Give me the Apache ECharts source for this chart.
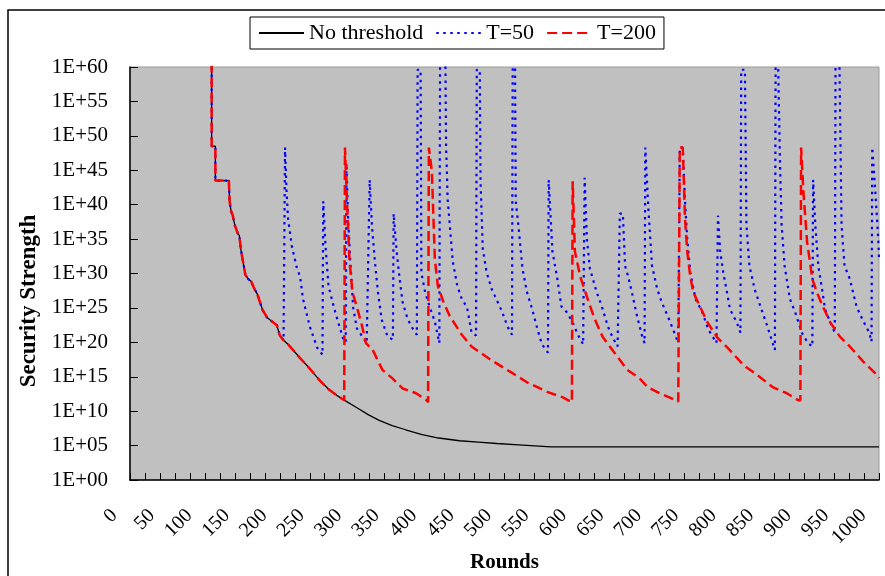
<!DOCTYPE html>
<html>
<head>
<meta charset="utf-8">
<script src="https://cdn.jsdelivr.net/npm/echarts@6/dist/echarts.min.js"></script>
<style>
html,body{margin:0;padding:0;background:#fff;}
#chart{width:885px;height:576px;}
</style>
</head>
<body>
<div id="chart"></div>
<script>
// x axis: rounds, labels every 50
const xLabelValues = [0,50,100,150,200,250,300,350,400,450,500,550,600,650,700,750,800,850,900,950,1000];
// y axis tick labels (log10 exponents)
const yTickLabels = ['1E+00','1E+05','1E+10','1E+15','1E+20','1E+25','1E+30','1E+35','1E+40','1E+45','1E+50','1E+55','1E+60'];

// Series values: [round, log10(security strength)]
const noThreshold = [
  [109,65],[109,48.5],[114,48.5],[114,43.5],[132,43.5],[133,40.5],[135,39.0],[137,38.5],[140,37.0],
  [144,35.8],[146,35.5],[148,33.5],[150,32.3],[154,29.8],[158,29.2],[162,28.8],[166,27.8],[170,27.0],
  [177,24.7],[183,23.6],[190,23.0],[196,22.5],[200,21.0],[205,20.3],[212,19.6],[220,18.6],[228,17.6],
  [239,16.3],[253,14.5],[266,13.1],[276,12.3],[286,11.6],[303,10.5],[318,9.5],[332,8.7],[350,7.9],[368,7.3],
  [390,6.6],[412,6.1],[440,5.7],[465,5.5],[490,5.3],[519,5.1],[562,4.8],[1000,4.8]
];

const t50 = [
  [109,65],[109,48.5],[114,48.5],[114,43.5],[132,43.5],[133,40.5],[135,39.0],[137,38.5],[140,37.0],
  [144,35.8],[146,35.5],[148,33.5],[150,32.3],[154,29.8],[158,29.2],[162,28.8],[166,27.8],[170,27.0],
  [177,24.7],[183,23.6],[190,23.0],[196,22.5],[200,21.0],[205,20.3],[206,20.1],
  [207,48.3],[209,42],[211,38],[216,34],[223,30.7],[227,29.6],[231,26.3],[240,22.3],[250,19.2],[257,18.2],
  [258,40.5],[261,34],[265,28.2],[272,25.2],[278,22.9],[285,20.4],[288,20],
  [289,46],[291,38.4],[294,32],[298,25],[303,22],[316,19.9],
  [320,43.6],[323,37],[327,31.7],[331,27.3],[336,23.3],[344,20.8],[351,20.4],
  [352,38.7],[356,33.2],[360,29.2],[364,25.8],[371,23.3],[378,21.9],[383,21.1],
  [384,59.6],[388,59.6],[389,30.1],[394,27.3],[400,25.2],[407,23],[413,19.9],
  [414,62],[421,62],[422,48.3],[423,45.3],[424,40.9],[431,31.7],[437,28.2],[443,26.3],[450,25.1],[456,21.4],[462,21],
  [463,59.6],[467,59.6],[468,43.4],[471,33.6],[476,30.2],[483,27.7],[489,26.3],[497,24.4],[504,22.3],[510,21.1],
  [511,62],[514,62],[515,40.5],[519,36.5],[524,30.7],[530,27.3],[537,24.8],[544,21.9],[550,19.7],[558,18.5],
  [559,43.6],[564,33.2],[570,29.6],[576,25.2],[583,24.4],[591,22.9],[598,21.1],[605,19.7],
  [607,43.9],[610,35],[614,30.7],[623,27.3],[630,25.2],[638,22.3],[644,20.8],[651,19.4],
  [654,38.7],[658,38.7],[661,31.1],[665,29.6],[670,27.3],[677,23.8],[684,20.8],[687,19.9],
  [688,48.3],[692,39.5],[697,31.1],[704,27.7],[710,25.8],[718,23.8],[725,21.9],[732,19.9],
  [734,48.3],[738,48.3],[741,40.5],[744,35],[748,30.2],[755,26.3],[764,24.4],[772,21.9],[783,19.9],
  [785,38.4],[788,33.2],[792,30.2],[797,27.3],[801,24.8],[810,22.9],[815,21.4],
  [816,59.6],[821,59.6],[823,37],[827,31.1],[834,27.7],[843,24.8],[851,22.3],[858,19.9],[861,18.9],
  [862,62],[865,62],[868,45.3],[870,37],[874,31.1],[881,26.3],[888,24.4],[897,21.4],[905,19.9],[911,19.4],
  [912,43.6],[914,43.6],[915,37],[919,31.1],[924,27.7],[928,24.8],[935,22.9],[941,21.4],
  [942,62],[947,62],[950,37],[954,31.1],[961,29.2],[970,25.2],[978,23.3],[987,21.4],[990,20.1],
  [991,48.3],[995,42],[999,35],[1000,32.1]
];

const t200 = [
  [109,65],[109,48.5],[114,48.5],[114,43.5],[132,43.5],[133,40.5],[135,39.0],[137,38.5],[140,37.0],
  [144,35.8],[146,35.5],[148,33.5],[150,32.3],[154,29.8],[158,29.2],[162,28.8],[166,27.8],[170,27.0],
  [177,24.7],[183,23.6],[190,23.0],[196,22.5],[200,21.0],[205,20.3],[212,19.6],[220,18.6],[228,17.6],
  [239,16.3],[253,14.5],[266,13.1],[276,12.3],[286,11.6],
  [287,48.3],[289,48.3],[290,39.5],[293,32],[297,27.3],[303,25.1],[310,22.3],[315,19.9],[324,18.9],
  [337,16],[350,14.8],[364,13.3],[382,12.6],[396,11.6],[398,11.3],
  [399,48.3],[401,48.3],[403,44.9],[407,32.1],[411,28.2],[418,26],[427,23.8],[443,21.1],[456,19.4],
  [481,17.5],[508,15.7],[530,14.2],[557,12.8],[578,12],[590,11.3],
  [591,43.4],[593,43.4],[594,33.2],[601,29.6],[611,26.3],[620,23.5],[631,20.8],[651,17.9],[664,16],
  [680,14.8],[691,13.5],[707,12.6],[720,12],[732,11.4],
  [734,48.3],[738,48.3],[741,38],[744,33.2],[748,29.6],[752,27.3],[761,25.2],[771,22.9],[784,20.7],
  [798,19.2],[819,16.7],[837,15.3],[858,13.5],[877,12.6],[892,11.6],[895,11.6],
  [896,48.3],[897,48.3],[899,42],[904,34.6],[911,29.2],[917,27.3],[925,25.2],[935,22.9],[948,20.8],
  [961,19.4],[979,17.2],[997,15.3],[1000,14.8]
];

const seriesNames = ['No threshold','T=50','T=200'];

const FONT = '"Liberation Serif", "Times New Roman", serif';
const toPts = arr => arr.map(p => [p[0], Math.pow(10, p[1])]);

const chart = echarts.init(document.getElementById('chart'), null, {renderer:'canvas'});
chart.setOption({
  animation: false,
  backgroundColor: '#ffffff',
  textStyle: { fontFamily: FONT },
  grid: { left: 130, right: 6, top: 67, bottom: 96, show: true, backgroundColor: '#C0C0C0', borderColor: '#999999', borderWidth: 1,
          containLabel: false, outerBoundsMode: 'none' },
  legend: {
    data: seriesNames,
    left: 250, top: 17,
    itemWidth: 45, itemHeight: 14, itemGap: 12,
    padding: [5, 8, 5, 8],
    borderColor: '#000', borderWidth: 1, backgroundColor: '#fff',
    itemStyle: { opacity: 0 },
    textStyle: { fontFamily: FONT, fontSize: 22, color: '#000' }
  },
  xAxis: [
    {
      type: 'value', min: 0, max: 1000, interval: 50, position: 'bottom',
      name: 'Rounds', nameLocation: 'middle', nameGap: 72, nameMoveOverlap: false,
      nameTextStyle: { fontFamily: FONT, fontSize: 21, fontWeight: 'bold', color: '#000' },
      axisLine: { show: true, lineStyle: { color: '#000', width: 1.5 } },
      axisTick: { show: false },
      splitLine: { show: false },
      axisLabel: {
        rotate: 45, margin: 17, fontFamily: FONT, fontSize: 20, color: '#000',
        padding: [0, 22, 24, 0],
        formatter: v => (xLabelValues.indexOf(v) >= 0 ? String(v) : '')
      }
    },
    {
      type: 'value', min: 0, max: 1000, interval: 20, position: 'bottom',
      axisLine: { show: false },
      axisTick: { show: true, inside: true, length: 7, lineStyle: { color: '#000', width: 1 } },
      axisLabel: { show: false },
      splitLine: { show: false }
    }
  ],
  yAxis: {
    type: 'log', logBase: 10, min: 1, max: 1e60, interval: 5,
    axisLine: { show: true, lineStyle: { color: '#000', width: 1.5 } },
    axisTick: { show: true, inside: true, length: 8, lineStyle: { color: '#000' } },
    splitLine: { show: false },
    minorTick: { show: false },
    axisLabel: {
      margin: 22, fontFamily: FONT, fontSize: 21, color: '#000',
      formatter: v => yTickLabels[Math.round(Math.log10(v) / 5)]
    }
  },
  graphic: [
    { type: 'rect', shape: { x: 8, y: 10, width: 900, height: 600 }, style: { fill: 'none', stroke: '#000', lineWidth: 1.5 }, silent: true, z: -1 },
    { type: 'text', x: 29, y: 301, rotation: Math.PI / 2,
      style: { text: 'Security Strength', font: 'bold 23px ' + FONT, fill: '#000', textAlign: 'center', textVerticalAlign: 'middle' } }
  ],
  series: [
    { name: seriesNames[0], type: 'line', xAxisIndex: 0, data: toPts(noThreshold), symbol: 'none', showSymbol: false,
      lineStyle: { color: '#000000', width: 1.3, type: 'solid' }, itemStyle: { color: '#000000' }, clip: true },
    { name: seriesNames[1], type: 'line', xAxisIndex: 0, data: toPts(t50), symbol: 'none', showSymbol: false,
      lineStyle: { color: '#0000FF', width: 2.2, type: [2.5, 4.5] }, itemStyle: { color: '#0000FF' }, clip: true },
    { name: seriesNames[2], type: 'line', xAxisIndex: 0, data: toPts(t200), symbol: 'none', showSymbol: false,
      lineStyle: { color: '#FF0000', width: 2.5, type: [10, 5] }, itemStyle: { color: '#FF0000' }, clip: true }
  ]
});
</script>
</body>
</html>
